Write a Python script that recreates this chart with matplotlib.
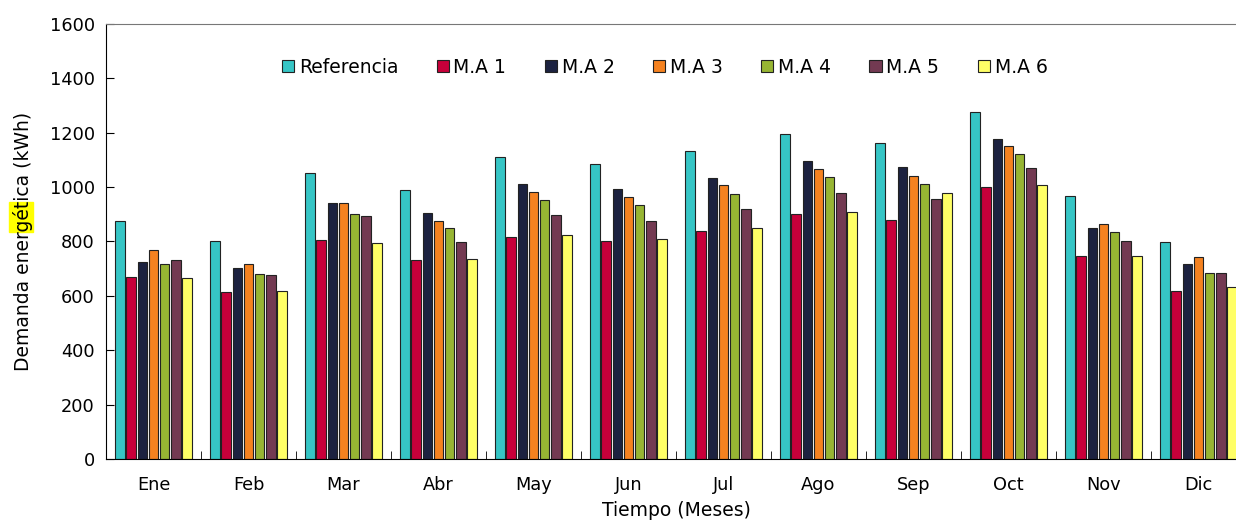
import matplotlib.pyplot as plt
import matplotlib.patches as mpatches
import numpy as np

meses = ["Ene", "Feb", "Mar", "Abr", "May", "Jun", "Jul", "Ago", "Sep", "Oct", "Nov", "Dic"]
series = ["Referencia", "M.A 1", "M.A 2", "M.A 3", "M.A 4", "M.A 5", "M.A 6"]

referencia = [874, 800, 1052, 990, 1111, 1086, 1133, 1195, 1162, 1275, 966, 799]
ma1 = [669, 613, 804, 733, 817, 802, 840, 901, 879, 999, 745, 617]
ma2 = [724, 702, 940, 903, 1011, 994, 1035, 1097, 1073, 1178, 850, 718]
ma3 = [768, 717, 940, 876, 981, 965, 1007, 1068, 1040, 1152, 866, 743]
ma4 = [717, 680, 901, 849, 953, 935, 976, 1037, 1011, 1122, 835, 684]
ma5 = [733, 676, 893, 799, 896, 877, 920, 980, 955, 1070, 802, 685]
ma6 = [666, 617, 796, 737, 823, 810, 850, 907, 978, 1007, 745, 633]

colores = ["#36C5C5", "#C8003A", "#1C2240", "#F58220", "#97B533", "#733A52", "#FFFF66"]

datos = [referencia, ma1, ma2, ma3, ma4, ma5, ma6]

fig = plt.figure(figsize=(12.36, 5.25), dpi=100)
ax = fig.add_axes([106 / 1236, 66 / 525, 1140 / 1236, 435 / 525])

x = np.arange(len(meses))
paso = 0.118
ancho = 0.098
for i, (nombre, vals, c) in enumerate(zip(series, datos, colores)):
    ax.bar(x + (i - 3) * paso, vals, width=ancho, color=c, edgecolor="#222222",
           linewidth=0.8, label=nombre, zorder=2)

ax.set_xlim(-0.5, 11.5)
ax.set_ylim(0, 1600)
ax.set_yticks(range(0, 1601, 200))
ax.set_xticks(x)
ax.set_xticklabels(meses)
ax.set_xticks(np.arange(0.5, 11.5, 1), minor=True)
ax.tick_params(axis="x", which="major", length=0, labelsize=12.8, pad=12)
ax.tick_params(axis="x", which="minor", direction="in", length=6)
ax.tick_params(axis="y", direction="in", length=6, labelsize=12.8, pad=8)
ax.spines["right"].set_visible(False)
ax.spines["top"].set_color("#777777")

ax.set_xlabel("Tiempo (Meses)", fontsize=13.5, labelpad=5)
ax.set_ylabel("Demanda energética (kWh)", fontsize=13.5, labelpad=12)

# resaltado amarillo detras de parte de la etiqueta
fig.patches.append(mpatches.Rectangle((9 / 1236, 1 - 232 / 525), 24 / 1236, 30 / 525,
                                      transform=fig.transFigure, color="#FFFF00",
                                      zorder=-1))

leg = ax.legend(loc="center", bbox_to_anchor=(0.49, 0.901), ncol=7, frameon=False,
                fontsize=13.5, handlelength=0.65, handleheight=0.65, handletextpad=0.25,
                columnspacing=2.05)

fig.savefig("out.png", dpi=100)
